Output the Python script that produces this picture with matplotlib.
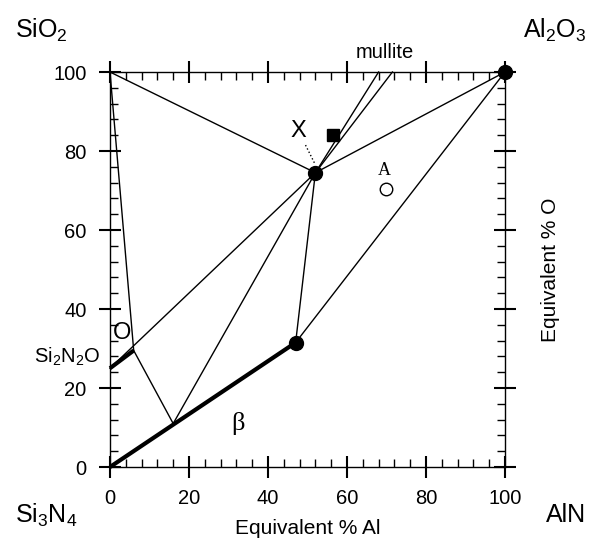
# Si-Al-O-N phase diagram (Janecke prism base, equivalent % plot)

import matplotlib.pyplot as plt
from matplotlib.ticker import MultipleLocator

plt.rcParams['font.family'] = ['Liberation Sans', 'DejaVu Sans']
plt.rcParams['mathtext.fontset'] = 'custom'
plt.rcParams['mathtext.rm'] = 'Liberation Sans'

# compositions (equivalent % Al, equivalent % O)
sio2 = (0, 100)
al2o3 = (100, 100)
si3n4 = (0, 0)
o_end = (0, 25)
o_lim = (6, 29.5)
beta_lo = (16, 11)
beta_hi = (47, 31.5)
x_pt = (52, 74.5)
mull_a = (68, 100)
mull_b = (71.5, 100)
sq_pt = (56.5, 84)
a_pt = (70, 70.5)

# thin tie lines
tie_lines = [
    (sio2, x_pt), (sio2, o_lim), (o_lim, beta_lo), (beta_lo, x_pt),
    (o_end, x_pt), (beta_hi, x_pt), (beta_hi, al2o3), (x_pt, al2o3),
    (x_pt, mull_a), (x_pt, mull_b),
]
# thick solid-solution lines
thick_lines = [(si3n4, beta_hi), (o_end, o_lim)]
dots = [x_pt, beta_hi, al2o3]

fig = plt.figure(figsize=(5.92, 5.48), dpi=100)
ax = fig.add_axes([0.1858, 0.1478, 0.6672, 0.7208])

for p, q in tie_lines:
    ax.plot([p[0], q[0]], [p[1], q[1]], color='black', lw=1.0, clip_on=False)
for p, q in thick_lines:
    ax.plot([p[0], q[0]], [p[1], q[1]], color='black', lw=3.0,
            solid_capstyle='butt', clip_on=False)

ax.plot([49.5, 52], [81.5, 76.5], color='black', lw=1.0, ls=':')
ax.plot([d[0] for d in dots], [d[1] for d in dots], 'o', color='black',
        ms=10, clip_on=False, zorder=5)
ax.plot(sq_pt[0], sq_pt[1], 's', color='black', ms=8)
ax.plot(a_pt[0], a_pt[1], 'o', mfc='white', mec='black', mew=1.0, ms=9)

ax.text(a_pt[0] - 0.5, a_pt[1] + 2.5, 'A', family='Liberation Serif',
        fontsize=13, ha='center', va='bottom')
ax.text(47.6, 85, 'X', fontsize=17, ha='center', va='center')
ax.text(3, 34, 'O', fontsize=17, ha='center', va='center')
ax.text(32.5, 11, 'β', family='Liberation Serif', fontsize=19,
        ha='center', va='center')
ax.text(69.5, 102.5, 'mullite', fontsize=14.5, ha='center', va='bottom')
ax.text(-2.5, 28, r'Si$_2$N$_2$O', fontsize=14.5, ha='right', va='center')

ax.set_xlim(0, 100)
ax.set_ylim(0, 100)
ax.xaxis.set_major_locator(MultipleLocator(20))
ax.yaxis.set_major_locator(MultipleLocator(20))
ax.xaxis.set_minor_locator(MultipleLocator(4))
ax.yaxis.set_minor_locator(MultipleLocator(4))
ax.tick_params(which='major', direction='inout', length=16, width=1.5,
               top=True, right=True, labelsize=14.5, pad=9)
ax.tick_params(which='minor', direction='in', length=6, width=1.0,
               top=True, right=True)
ax.tick_params(axis='x', which='major', pad=8)
for s in ax.spines.values():
    s.set_linewidth(1.0)

ax.set_xlabel('Equivalent % Al', fontsize=15, labelpad=8)
ax.yaxis.set_label_position('right')
ax.set_ylabel('Equivalent % O', fontsize=15, labelpad=18)

fig.text(0.025, 0.945, r'SiO$_2$', fontsize=18, va='center', ha='left')
fig.text(0.99, 0.945, r'Al$_2$O$_3$', fontsize=18, va='center', ha='right')
fig.text(0.025, 0.06, r'Si$_3$N$_4$', fontsize=18, va='center', ha='left')
fig.text(0.99, 0.06, 'AlN', fontsize=18, va='center', ha='right')

fig.savefig('out.png', dpi=100)
